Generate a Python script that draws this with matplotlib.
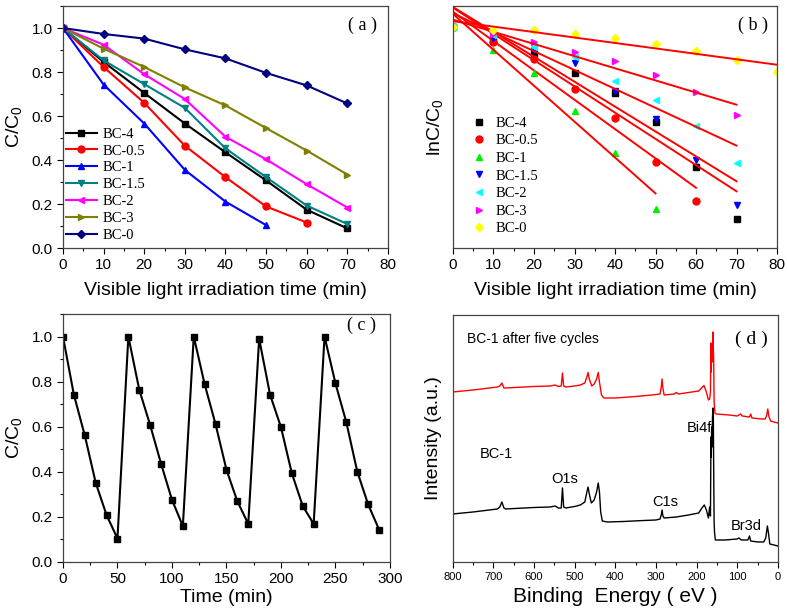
import numpy as np
import matplotlib
matplotlib.use('Agg')
import matplotlib.pyplot as plt
from matplotlib.ticker import MultipleLocator

plt.rcParams['font.family'] = ['Liberation Sans', 'DejaVu Sans']
plt.rcParams['mathtext.default'] = 'regular'

# ---- (a) C/C0 vs time ----
t_a = [0, 10, 20, 30, 40, 50, 60, 70]
a_labels = ['BC-4', 'BC-0.5', 'BC-1', 'BC-1.5', 'BC-2', 'BC-3', 'BC-0']
a_bc4 = [1.0, 0.846, 0.705, 0.566, 0.435, 0.307, 0.174, 0.089]
a_bc05 = [1.0, 0.823, 0.660, 0.465, 0.322, 0.189, 0.116]
a_bc1 = [1.0, 0.743, 0.566, 0.355, 0.211, 0.104]
a_bc15 = [1.0, 0.853, 0.745, 0.637, 0.453, 0.322, 0.193, 0.109]
a_bc2 = [1.0, 0.924, 0.790, 0.677, 0.506, 0.403, 0.290, 0.184]
a_bc3 = [1.0, 0.906, 0.823, 0.730, 0.648, 0.545, 0.443, 0.334]
a_bc0 = [1.0, 0.973, 0.952, 0.903, 0.862, 0.796, 0.739, 0.657]

# ---- (b) lnC/C0 vs time ----
t_b = [0, 10, 20, 30, 40, 50, 60, 70, 80]
b_bc4 = [0.0, -0.17, -0.34, -0.573, -0.83, -1.191, -1.755, -2.394]
b_bc05 = [0.0, -0.187, -0.407, -0.772, -1.141, -1.689, -2.170]
b_bc1 = [0.0, -0.290, -0.573, -1.046, -1.573, -2.270]
b_bc15 = [0.0, -0.145, -0.290, -0.448, -0.797, -1.149, -1.660, -2.228]
b_bc2 = [0.0, -0.104, -0.249, -0.382, -0.676, -0.913, -1.237, -1.693]
b_bc3 = [0.0, -0.083, -0.187, -0.311, -0.427, -0.602, -0.817, -1.100]
b_bc0 = [0.0, -0.033, -0.041, -0.091, -0.137, -0.220, -0.299, -0.419, -0.568]

# ---- (c) recycling ----
t_c = list(range(0, 300, 10))
c_vals = [1.0, 0.742, 0.562, 0.352, 0.208, 0.104,
          1.0, 0.764, 0.607, 0.436, 0.276, 0.159,
          1.0, 0.788, 0.611, 0.409, 0.269, 0.169,
          0.990, 0.742, 0.598, 0.393, 0.248, 0.169,
          1.0, 0.792, 0.619, 0.401, 0.255, 0.144]

# ---- (d) XPS survey, vertices (arb. units) ----
be_black = [800, 750, 690, 684, 679, 674, 670, 600, 560, 548, 540, 533, 530, 527, 522,
            500, 486, 475, 470, 467, 464, 459, 452, 446, 442, 439, 436, 432, 420, 380,
            330, 300, 290, 287, 285, 283, 280, 250, 220, 195, 187, 181, 176, 171, 168,
            166, 165, 164.5, 164, 163, 162, 161, 160, 159, 158, 157, 156, 154, 130, 100,
            96, 90, 74, 70, 67, 50, 35, 30, 26, 23, 20, 10, 0]
i_black = [48, 50, 53, 55, 60, 54, 53, 54.5, 55, 56, 54, 54, 74, 55, 54,
           55.5, 57, 60, 70, 75, 68, 59, 62, 70, 79, 70, 50, 41, 40, 40.5,
           41.5, 42, 43, 47, 52, 46, 44, 45, 47, 49, 54, 57, 52, 44, 55,
           46, 110, 125, 105, 135, 115, 145, 154, 150, 90, 40, 30, 22, 22, 23,
           24, 22, 22, 26, 21, 20, 20, 24, 36, 28, 18, 17, 16]
be_red = [800, 750, 690, 684, 679, 674, 670, 600, 560, 548, 540, 533, 530, 527, 522,
          500, 486, 475, 470, 467, 464, 458, 452, 446, 442, 439, 434, 428, 400, 350,
          310, 290, 287, 285, 283, 280, 255, 250, 245, 220, 195, 188, 182, 176, 171,
          168, 166, 165, 164, 163, 162, 160, 159, 158, 157, 155, 152, 120, 100, 92,
          88, 70, 67, 64, 40, 32, 28, 25, 22, 18, 10, 0]
i_red = [170, 172, 175, 176, 179, 174, 174, 175.5, 176, 177, 175.5, 176, 189, 176, 175,
         176, 177, 179, 185, 189.5, 183, 176, 178, 183, 189.5, 180, 167, 164, 164, 165.5,
         167, 168, 175, 183, 174, 167, 168, 169.5, 168, 169.5, 171, 174, 176.5, 170, 162,
         163, 170, 219, 190, 212, 200, 230, 215, 200, 160, 149, 148, 147, 146, 148,
         146, 145, 148, 144, 143, 143, 146, 153, 145, 141, 140, 139]

serif = ['Liberation Serif', 'DejaVu Serif']


def style_axis(ax):
    ax.tick_params(which='both', direction='out', labelsize=11, width=0.8)
    ax.tick_params(which='major', length=4)
    ax.tick_params(which='minor', length=2.5)
    for sp in ax.spines.values():
        sp.set_linewidth(0.9)
        sp.set_color('#444444')


fig = plt.figure(figsize=(7.87, 6.15), dpi=100)

# panel (a)
ax = fig.add_axes([0.080, 0.5967, 0.413, 0.3935])
a_series = [a_bc4, a_bc05, a_bc1, a_bc15, a_bc2, a_bc3, a_bc0]
a_colors = ['black', 'red', 'blue', '#008080', 'magenta', '#808000', '#000080']
a_markers = ['s', 'o', '^', 'v', '<', '>', 'D']
for vals, lab, col, mk in zip(a_series, a_labels, a_colors, a_markers):
    ax.plot(t_a[:len(vals)], vals, color=col, marker=mk, markersize=5 if mk != 'D' else 4.2,
            linewidth=1.5, label=lab)
ax.set_xlim(0, 80)
ax.set_ylim(0, 1.1)
ax.xaxis.set_major_locator(MultipleLocator(10))
ax.xaxis.set_minor_locator(MultipleLocator(5))
ax.yaxis.set_major_locator(MultipleLocator(0.2))
ax.yaxis.set_minor_locator(MultipleLocator(0.1))
ax.set_yticklabels([f'{v:.1f}' for v in ax.get_yticks()])
style_axis(ax)
ax.set_xlabel('Visible light irradiation time (min)', fontsize=14, labelpad=7)
ax.set_ylabel('C/C$_0$', fontsize=14, labelpad=5)
ax.legend(loc='upper left', bbox_to_anchor=(0.0, 0.51), frameon=False,
          prop={'family': serif, 'size': 10.5}, handlelength=2.1, handletextpad=0.4,
          labelspacing=0.25, borderpad=0, borderaxespad=0.2)
ax.text(0.923, 0.92, '( a )', transform=ax.transAxes, ha='center', va='center',
        fontsize=13, family=serif)

# panel (b)
ax = fig.add_axes([0.5756, 0.5967, 0.4117, 0.3935])
b_series = [b_bc4, b_bc05, b_bc1, b_bc15, b_bc2, b_bc3, b_bc0]
b_colors = ['black', 'red', '#00ee00', 'blue', 'cyan', 'magenta', 'yellow']
for vals, lab, col, mk in zip(b_series, a_labels, b_colors, a_markers):
    tt = np.array(t_b[:len(vals)])
    ax.plot(tt, vals, linestyle='none', color=col, marker=mk,
            markersize=5 if mk != 'D' else 4.5, label=lab)
    k, b0 = np.polyfit(tt, vals, 1)
    ax.plot([0, tt[-1]], [b0, b0 + k * tt[-1]], color='red', linewidth=1.4)
ax.set_xlim(0, 80)
ax.set_ylim(-2.76, 0.26)
ax.xaxis.set_major_locator(MultipleLocator(10))
ax.xaxis.set_minor_locator(MultipleLocator(5))
ax.set_yticks([])
style_axis(ax)
ax.set_xlabel('Visible light irradiation time (min)', fontsize=14, labelpad=7)
ax.set_ylabel('lnC/C$_0$', fontsize=14, labelpad=6)
ax.legend(loc='upper left', bbox_to_anchor=(0.05, 0.555), frameon=False,
          prop={'family': serif, 'size': 10.5}, handlelength=1.0, handletextpad=0.6,
          labelspacing=0.3, borderpad=0, borderaxespad=0.2)
ax.text(0.927, 0.92, '( b )', transform=ax.transAxes, ha='center', va='center',
        fontsize=13, family=serif)

# panel (c)
ax = fig.add_axes([0.080, 0.0862, 0.4155, 0.4033])
ax.plot(t_c, c_vals, color='black', marker='s', markersize=4.5, linewidth=1.5)
ax.set_xlim(0, 300)
ax.set_ylim(0, 1.1)
ax.xaxis.set_major_locator(MultipleLocator(50))
ax.xaxis.set_minor_locator(MultipleLocator(25))
ax.yaxis.set_major_locator(MultipleLocator(0.2))
ax.yaxis.set_minor_locator(MultipleLocator(0.1))
ax.set_yticklabels([f'{v:.1f}' for v in ax.get_yticks()])
style_axis(ax)
ax.set_xlabel('Time (min)', fontsize=14, labelpad=2)
ax.set_ylabel('C/C$_0$', fontsize=14, labelpad=5)
ax.text(0.913, 0.955, '( c )', transform=ax.transAxes, ha='center', va='center',
        fontsize=13, family=serif)

# panel (d)
ax = fig.add_axes([0.5752, 0.0862, 0.4133, 0.4016])
ax.plot(be_red, i_red, color='red', linewidth=1.0)
ax.plot(be_black, i_black, color='black', linewidth=1.0)
ax.set_xlim(800, 0)
ax.set_ylim(0, 247)
ax.xaxis.set_major_locator(MultipleLocator(100))
ax.xaxis.set_minor_locator(MultipleLocator(50))
ax.set_yticks([])
style_axis(ax)
ax.tick_params(axis='x', labelsize=8)
ax.set_xlabel('Binding  Energy ( eV )', fontsize=15, labelpad=3)
ax.set_ylabel('Intensity (a.u.)', fontsize=14, labelpad=8)
ax.text(765, 223, 'BC-1 after five cycles', ha='left', va='center', fontsize=10)
ax.text(733, 108, 'BC-1', ha='left', va='center', fontsize=10.5)
ax.text(524, 83, 'O1s', ha='center', va='center', fontsize=10.5)
ax.text(278, 60, 'C1s', ha='center', va='center', fontsize=10.5)
ax.text(194, 134, 'Bi4f', ha='center', va='center', fontsize=10.5)
ax.text(78, 36, 'Br3d', ha='center', va='center', fontsize=10.5)
ax.text(0.918, 0.903, '( d )', transform=ax.transAxes, ha='center', va='center',
        fontsize=14, family=serif)

plt.savefig('out.png', dpi=100)
plt.close()
